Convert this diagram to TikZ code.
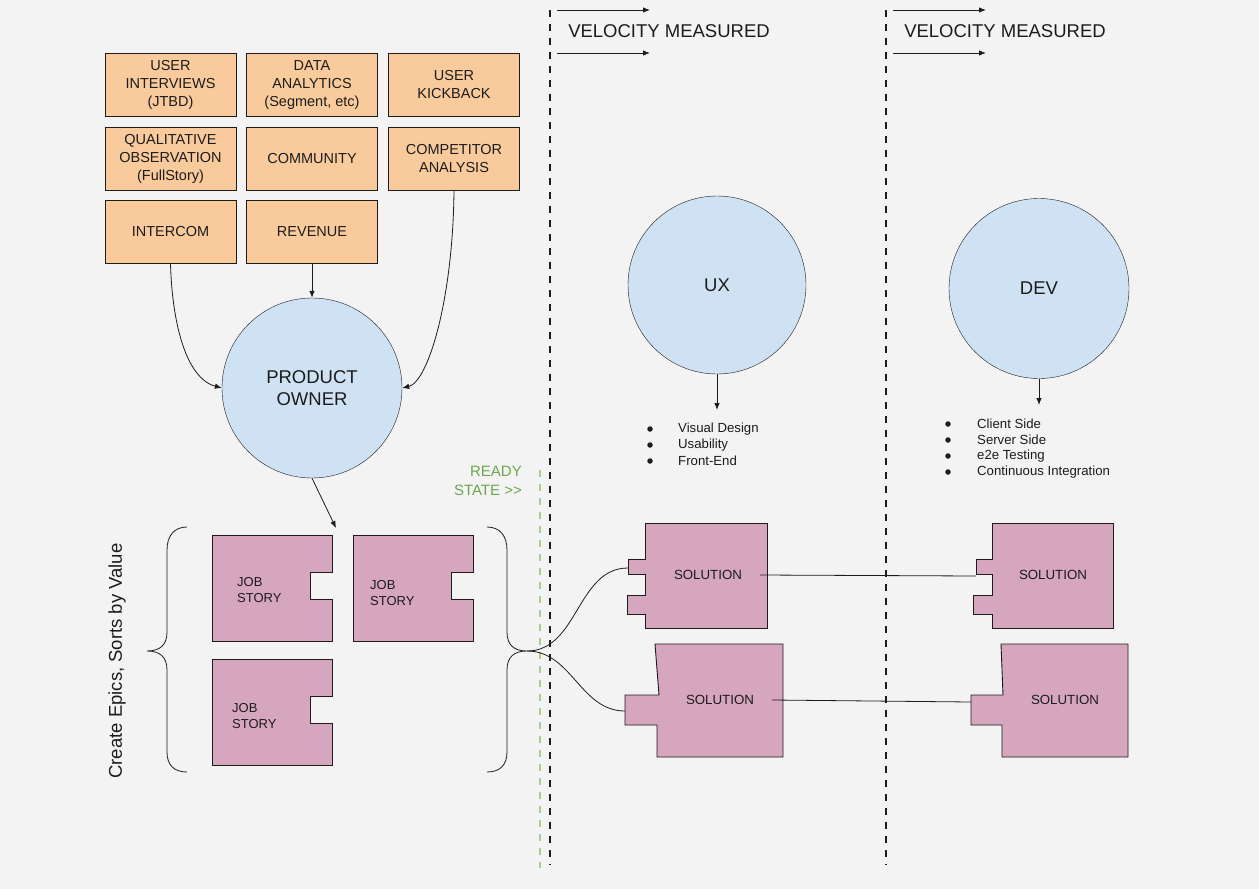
\documentclass[tikz,border=0pt]{standalone}
\usepackage{fontspec}
\setmainfont{Liberation Sans}
\usepackage{xcolor}
\usetikzlibrary{arrows.meta, positioning, calc}
\definecolor{bgcol}{HTML}{F3F3F3}
\definecolor{srccol}{HTML}{F9CB9C}
\definecolor{rolecol}{HTML}{CFE2F3}
\definecolor{storycol}{HTML}{D5A6BD}
\definecolor{readycol}{HTML}{6AA84F}
\definecolor{readyline}{HTML}{A8D08D}
\definecolor{inkcol}{HTML}{1C1C1C}
\tikzset{
	source/.style={rectangle, draw, fill=srccol, minimum width=131pt, minimum height=63pt, align=center, inner sep=1pt, font=\fontsize{14.5}{18}\selectfont},
	role/.style={circle, draw, fill=rolecol, minimum size=180pt, inner sep=0pt, align=center, font=\fontsize{18.5}{21.5}\selectfont},
	piece/.style={draw, fill=storycol, line width=0.9pt},
	storytext/.style={anchor=west, align=left, inner sep=0pt, font=\fontsize{13}{16}\selectfont},
	soltext/.style={inner xsep=18pt, font=\fontsize{13.3}{16}\selectfont},
	item/.style={anchor=west, inner sep=0pt, font=\fontsize{13.2}{16}\selectfont},
	dot/.style={circle, fill, inner sep=0pt, minimum size=5.5pt},
	heading/.style={font=\fontsize{18.5}{22}\selectfont},
	line/.style={draw, line width=0.8pt, -{Latex[length=7pt,width=5.5pt]}},
	plain/.style={draw, line width=0.8pt},
	lane/.style={line width=1.8pt, dash pattern=on 7pt off 7pt}
}

\begin{document}
\begin{tikzpicture}[x=1pt, y=-1pt, inkcol, text=inkcol]
	% Canvas
	\fill[bgcol] (0,0) rectangle (1259,889);
	\useasboundingbox (0,0) rectangle (1259,889);
	
	% Lanes
	\draw[lane, readyline] (540,470) -- (540,868);
	\foreach \x/\n in {550/1, 886/2} {
		\draw[lane] (\x,10) -- (\x,865);
		\node[heading] (vel\n) at (\x+119,31) {VELOCITY MEASURED};
		\coordinate (va\n) at (\x+7,10);
		\coordinate (vb\n) at (\x+100,10);
		\coordinate (vc\n) at (\x+7,53);
		\coordinate (vd\n) at (\x+100,53);
		\draw[line] (va\n) -- (vb\n);
		\draw[line] (vc\n) -- (vd\n);
	}
	\node[anchor=east, align=right, inner sep=0pt, readycol, font=\fontsize{15}{19}\selectfont] (ready) at (522,481) {READY\\STATE >{}>};
	
	% Sources
	\node[source] (interviews) at (170.5,85) {USER\\INTERVIEWS\\(JTBD)};
	\node[source] (analytics) at (312,85) {DATA\\ANALYTICS\\(Segment, etc)};
	\node[source] (kickback) at (454,85) {USER\\KICKBACK};
	\node[source] (qualitative) at (170.5,158.5) {QUALITATIVE\\OBSERVATION\\(FullStory)};
	\node[source] (community) at (312,158.5) {COMMUNITY};
	\node[source] (competitor) at (454,158.5) {COMPETITOR\\ANALYSIS};
	\node[source] (intercom) at (170.5,232) {INTERCOM};
	\node[source] (revenue) at (312,232) {REVENUE};
	
	% Roles
	\node[role] (po) at (312,388) {PRODUCT\\OWNER};
	\node[role, minimum size=178pt] (ux) at (717,285) {UX};
	\node[role] (dev) at (1039,288.5) {DEV};
	
	\draw[line] (intercom.south) .. controls (172,320) and (185,378) .. (po.west);
	\draw[line] (revenue.south) -- (po.north);
	\draw[line] (competitor.south) .. controls (453,300) and (428,382) .. (po.east);
	\coordinate (epics) at (336,528);
	\draw[line] (po.south) -- (epics);
	
	% Skills
	\coordinate (uxlist) at (717,410);
	\coordinate (devlist) at (1039,405);
	\draw[line] (ux.south) -- (uxlist);
	\draw[line] (dev.south) -- (devlist);
	\foreach \t [count=\i] in {Visual Design, Usability, Front-End} {
		\node[dot] (uxb\i) at (650,{429+16*(\i-1)}) {};
		\node[item] (uxt\i) at (678,{429+16*(\i-1)}) {\t};
	}
	\foreach \t [count=\i] in {Client Side, Server Side, e2e Testing, Continuous Integration} {
		\node[dot] (devb\i) at (948,{424+16*(\i-1)}) {};
		\node[item] (devt\i) at (977,{424+16*(\i-1)}) {\t};
	}
	
	% Job stories
	\foreach \x/\y in {212/535, 353/535, 212/659}
		\draw[piece] (\x,\y) -- ++(120,0) -- ++(0,37) -- ++(-22,0) -- ++(0,27) -- ++(22,0) -- ++(0,42) -- ++(-120,0) -- cycle;
	\node[storytext] (js1) at (237,590) {JOB\\STORY};
	\node[storytext] (js2) at (370,593) {JOB\\STORY};
	\node[storytext] (js3) at (232,716) {JOB\\STORY};
	\node[rotate=90, heading] (epicslabel) at (117,661) {Create Epics, Sorts by Value};
	
	% Braces
	\draw[plain] (187,527) .. controls (174,527) and (167,536) .. (167,550) -- (167,632)
		.. controls (167,645) and (160,651) .. (147,651) .. controls (160,651) and (167,657) .. (167,670)
		-- (167,752) .. controls (167,765) and (174,772) .. (187,772);
	\draw[plain] (487,527) .. controls (500,527) and (507,536) .. (507,550) -- (507,632)
		.. controls (507,645) and (514,651) .. (527,651) .. controls (514,651) and (507,657) .. (507,670)
		-- (507,752) .. controls (507,765) and (500,772) .. (487,772);
	\coordinate (bracetip) at (527,651);
	
	% Solutions
	\draw[piece] (645,523) -- (767,523) -- (767,628) -- (645,628) -- (645,614) -- (627,614) -- (627,595) -- (645,595) -- (645,574) -- (628,574) -- (628,559) -- (645,559) -- cycle;
	\draw[piece] (655,644) -- (783,644) -- (783,757) -- (657,757) -- (657,725) -- (625,725) -- (625,695) -- (659,695) -- cycle;
	\draw[piece] (992,523) -- (1113,523) -- (1113,628) -- (992,628) -- (992,614) -- (973,614) -- (973,595) -- (992,595) -- (992,574) -- (976,574) -- (976,559) -- (992,559) -- cycle;
	\draw[piece] (1001,644) -- (1128,644) -- (1128,757) -- (1002,757) -- (1002,725) -- (971,725) -- (971,695) -- (1003,695) -- cycle;
	\node[soltext] (sol1) at (708,575) {SOLUTION};
	\node[soltext] (sol2) at (720,700) {SOLUTION};
	\node[soltext] (sol3) at (1053,575) {SOLUTION};
	\node[soltext] (sol4) at (1065,700) {SOLUTION};
	\coordinate (s1in) at (628,568);
	\coordinate (s2in) at (625,711);
	\coordinate (s3in) at (976,576);
	\coordinate (s4in) at (971,702);
	
	% Connections
	\draw[plain] (bracetip) to[out=0, in=180] (s1in);
	\draw[plain] (bracetip) to[out=0, in=180] (s2in);
	\draw[plain] (sol1.east) -- (s3in);
	\draw[plain] (sol2.east) -- (s4in);
\end{tikzpicture}
\end{document}
